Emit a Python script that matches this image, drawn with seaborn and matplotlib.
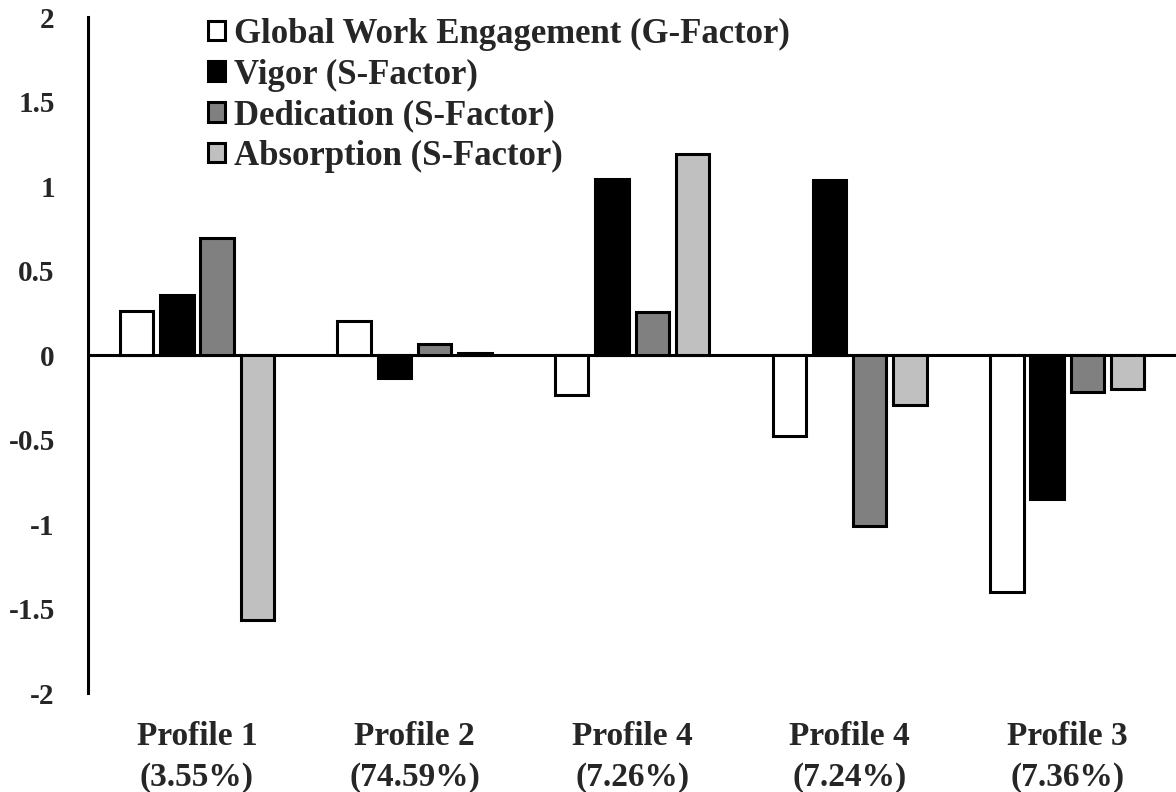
import matplotlib
matplotlib.use("Agg")
import matplotlib.pyplot as plt
import seaborn as sns
import pandas as pd

# profile keys (two "Profile 4" groups need distinct keys), tick labels and series
profiles = ["P1", "P2", "P4a", "P4b", "P3"]
tick_labels = ["Profile 1\n(3.55%)", "Profile 2\n(74.59%)", "Profile 4\n(7.26%)",
               "Profile 4\n(7.24%)", "Profile 3\n(7.36%)"]
series = ["Global Work Engagement (G-Factor)", "Vigor (S-Factor)",
          "Dedication (S-Factor)", "Absorption (S-Factor)"]
global_we = [0.26, 0.20, -0.237, -0.48, -1.40]
vigor = [0.355, -0.136, 1.04, 1.035, -0.85]
dedication = [0.69, 0.065, 0.254, -1.01, -0.22]
absorption = [-1.57, 0.01, 1.19, -0.296, -0.20]
colors = ["#ffffff", "#000000", "#808080", "#c0c0c0"]

rows = []
for name, vals in zip(series, [global_we, vigor, dedication, absorption]):
    for p, v in zip(profiles, vals):
        rows.append({"profile": p, "factor": name, "value": v})
df = pd.DataFrame(rows)

sns.set_theme(style="white")
plt.rcParams["font.family"] = ["Liberation Serif", "DejaVu Serif"]
plt.rcParams["font.weight"] = "bold"

fig = plt.figure(figsize=(11.76, 7.92), dpi=100)
ax = fig.add_axes([0.075, 0.125, 0.925, 0.8535])

sns.barplot(data=df, x="profile", y="value", hue="factor", order=profiles,
            hue_order=series, palette=colors, width=0.74, gap=0.17,
            edgecolor="black", linewidth=2.2, ax=ax)

ax.axhline(0, color="black", linewidth=2.2, zorder=0.5)
ax.set_ylim(-2, 2)
ax.set_xlim(-0.5, 4.5)
ax.set_yticks([-2, -1.5, -1, -0.5, 0, 0.5, 1, 1.5, 2])
ax.set_yticklabels(["-2", "-1.5", "-1", "-0.5", "0", "0.5", "1", "1.5", "2"])
ax.set_xticks(range(len(profiles)))
ax.set_xticklabels(tick_labels, linespacing=1.4)
ax.tick_params(axis="y", length=0, pad=24, labelsize=21)
ax.tick_params(axis="x", length=0, pad=20, labelsize=24)
for lbl in ax.get_xticklabels() + ax.get_yticklabels():
    lbl.set_fontweight("bold")
ax.set_xlabel("")
ax.set_ylabel("")

for side in ["top", "right", "bottom"]:
    ax.spines[side].set_visible(False)
ax.spines["left"].set_linewidth(2.2)
ax.spines["left"].set_color("black")

leg = ax.legend(loc="upper left", bbox_to_anchor=(0.081, 1.045), frameon=False,
                prop={"size": 25, "weight": "bold"}, handlelength=0.49,
                handleheight=0.5, handletextpad=0.26, labelspacing=0.22)
for h in leg.legend_handles:
    h.set_edgecolor("black")
    h.set_linewidth(2.2)

fig.savefig("out.png", dpi=100)
